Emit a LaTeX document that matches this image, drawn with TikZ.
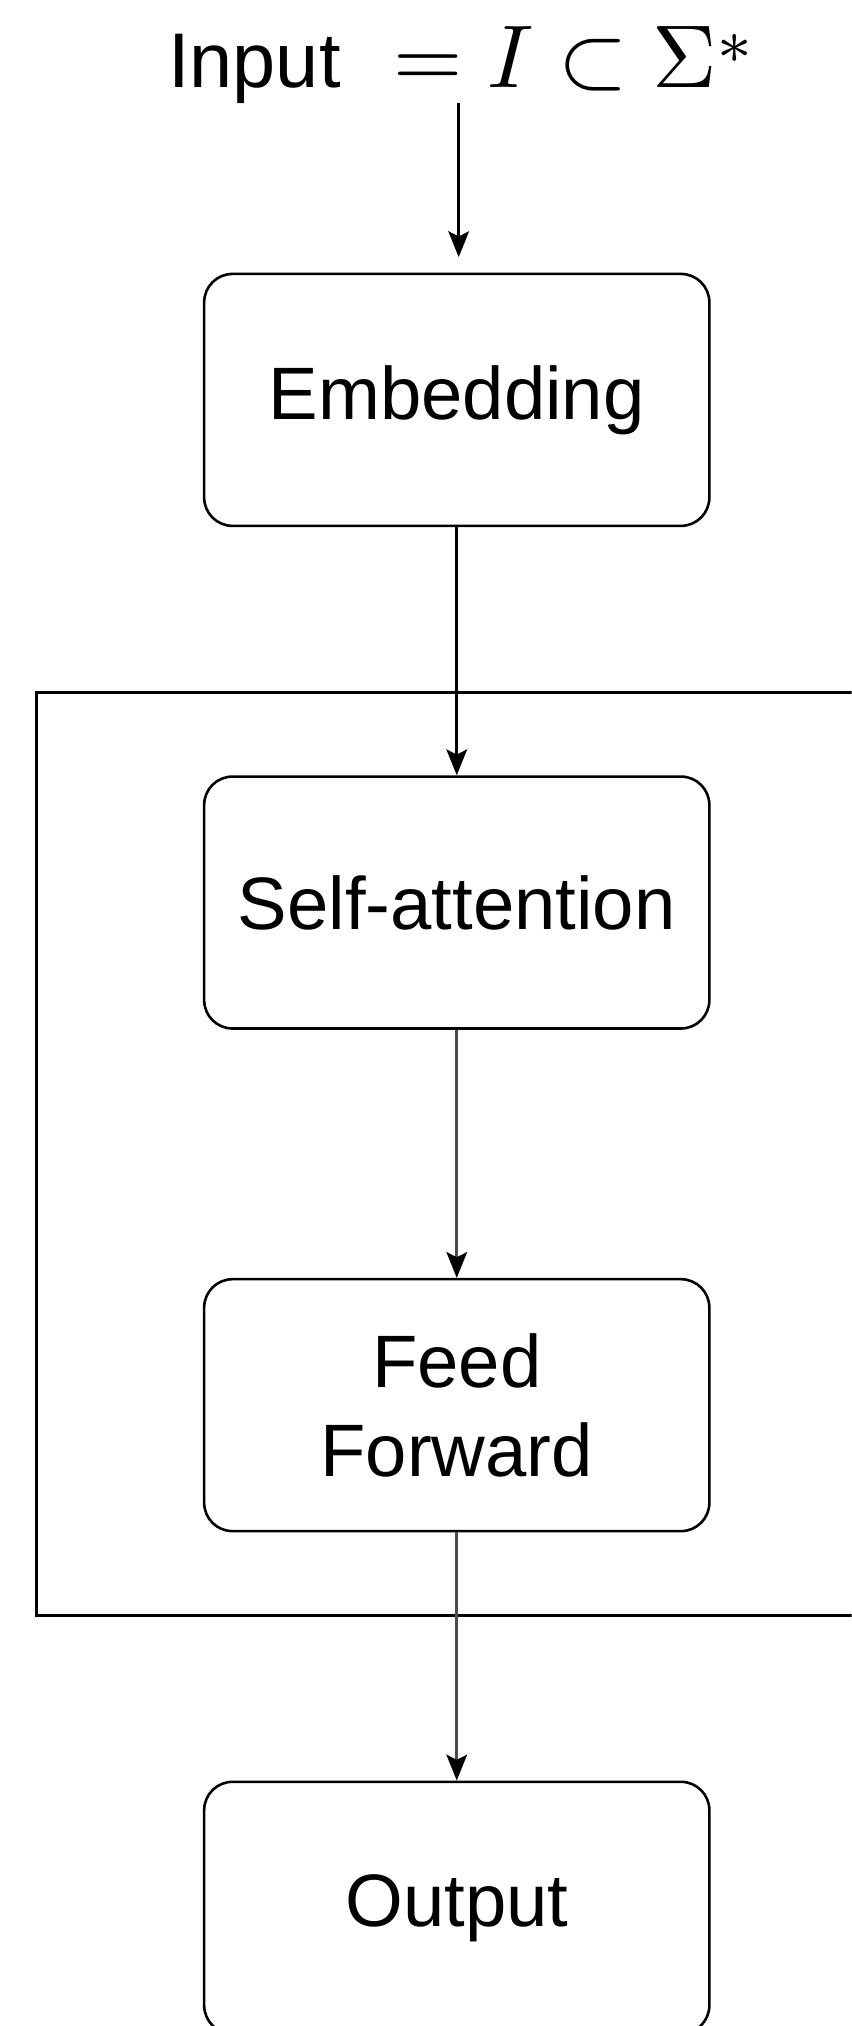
\documentclass[tikz,border=0pt]{standalone}
\usepackage{fontspec}
\usepackage{graphicx}
\setmainfont{Liberation Sans}
\usetikzlibrary{arrows.meta}
\begin{document}
\begin{tikzpicture}[x=1pt,y=-1pt,
  block/.style={draw=black, line width=2pt, rounded corners=22pt, fill=white,
    minimum width=391pt, minimum height=195pt, align=center,
    font=\fontsize{57.5}{69}\selectfont},
  flow/.style={line width=2pt, -{Stealth[length=20pt,width=16pt,inset=4pt]}},
  softflow/.style={line width=2pt, draw=black!70, -{Stealth[length=20pt,width=16pt,inset=4pt,color=black]}}]
\clip (0,0) rectangle (659,1568);
\fill[white] (0,0) rectangle (659,1568);

% layer frame around the repeated block
\draw[line width=2.2pt] (700,536) -- (28,536) -- (28,1250) -- (700,1250);

% input label
\node[anchor=base west, inner sep=0pt, font=\fontsize{60}{72}\selectfont] (title) at (130,68)
  {Input\hspace{0.68em}\scalebox{6.9}{\normalsize$=I\subset\Sigma^{\raisebox{-0.9pt}{$\scriptstyle *$}}$}};
\coordinate (tstart) at (355,80);

\node[block] (emb)  at (353.5,309.5) {Embedding};
\node[block] (sa)   at (353.5,698.5) {Self-attention};
\node[block] (ff)   at (353.5,1087.5) {Feed\\Forward};
\node[block] (out)  at (353.5,1476.5) {Output};

\draw[flow] (tstart) -- ([yshift=12pt]emb.north -| tstart);
\draw[flow] (emb.south) -- (sa.north);
\draw[softflow] (sa.south) -- (ff.north);
\draw[softflow] (ff.south) -- (out.north);
\end{tikzpicture}
\end{document}
